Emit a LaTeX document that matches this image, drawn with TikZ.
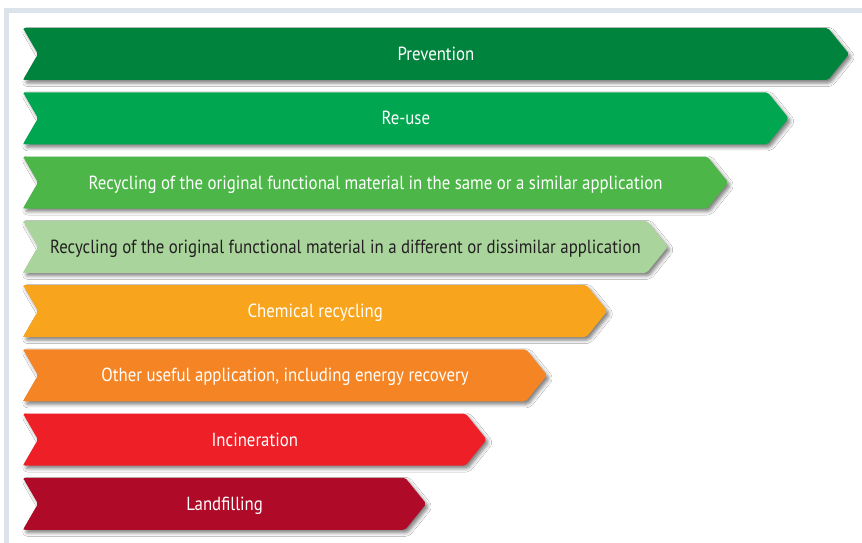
\documentclass[tikz,border=0pt]{standalone}
\usepackage{fontspec}
\setmainfont[FakeStretch=0.885]{PT Sans}
\usetikzlibrary{shadows.blur}
\definecolor{framegray}{HTML}{DCE3EA}
\definecolor{cPrev}{HTML}{00843D}
\definecolor{cReuse}{HTML}{00A650}
\definecolor{cRecA}{HTML}{4CB748}
\definecolor{cRecB}{HTML}{A9D59D}
\definecolor{cChem}{HTML}{F8A51D}
\definecolor{cOther}{HTML}{F58524}
\definecolor{cInc}{HTML}{EE1F26}
\definecolor{cLand}{HTML}{AF0A27}
\definecolor{darktext}{HTML}{231F20}
\tikzset{
  bandstyle/.style={rounded corners=2pt,
    blur shadow={shadow xshift=2.5pt, shadow yshift=-3pt, shadow blur radius=3.5pt, shadow opacity=50}},
  bandtext/.style={anchor=base, inner sep=0pt, font=\fontsize{19}{21}\selectfont}
}
\newcommand\wband[5]{%
  \pgfmathsetmacro\ym{54+64.25*#2}%
  \pgfmathsetmacro\yt{\ym-26}%
  \pgfmathsetmacro\yb{\ym+26}%
  \pgfmathsetmacro\xt{849-60.4*#2}%
  \pgfmathsetmacro\xc{\xt-21}%
  \pgfmathsetmacro\xm{(23+\xt)/2}%
  \pgfmathsetmacro\yl{\ym+6.5}%
  \path[bandstyle, fill=#3] (23,\yt) -- (\xc,\yt) -- (\xt,\ym) -- (\xc,\yb) -- (23,\yb) -- (38,\ym) -- cycle;
  \node[bandtext, text=#4] (#1) at (\xm,\yl) {#5};
}
\begin{document}
\begin{tikzpicture}[x=1pt,y=-1pt]
\useasboundingbox (0,0) rectangle (862,543);
\fill[framegray] (4,8) rectangle (862,543);
\fill[white] (9,13) rectangle (862,543);
\wband{prev}{0}{cPrev}{white}{Prevention}
\wband{reuse}{1}{cReuse}{white}{Re-use}
\wband{reca}{2}{cRecA}{white}{Recycling of the original functional material in the same or a similar application}
\wband{recb}{3}{cRecB}{darktext}{Recycling of the original functional material in a different or dissimilar application}
\wband{chem}{4}{cChem}{white}{Chemical recycling}
\wband{other}{5}{cOther}{white}{Other useful application, including energy recovery}
\wband{inc}{6}{cInc}{white}{Incineration}
\wband{land}{7}{cLand}{white}{Landfilling}
\end{tikzpicture}
\end{document}
